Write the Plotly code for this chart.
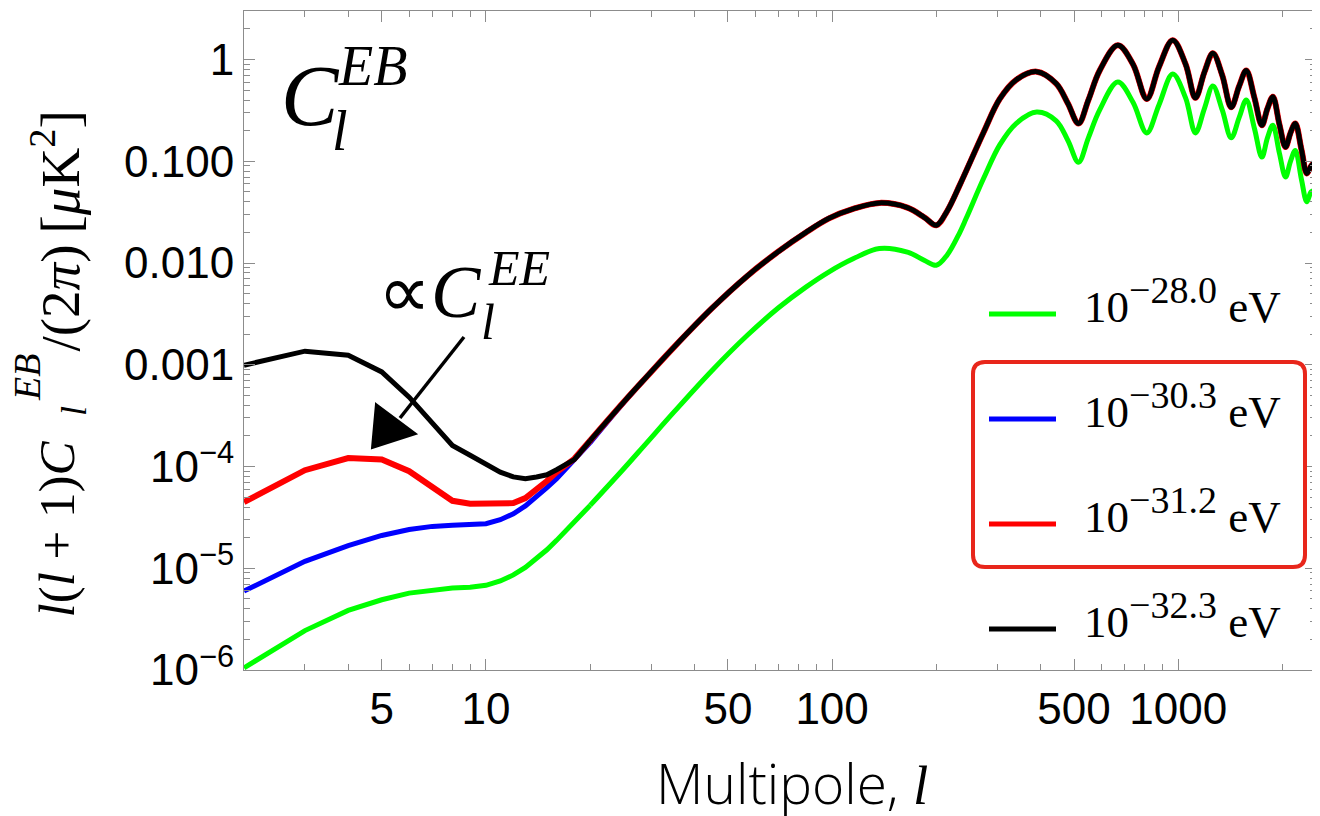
import plotly.graph_objects as go

# ---------------- data ----------------
ell_low = [2, 3, 4, 5, 6, 7, 8, 9, 10, 11, 12, 13, 14, 15, 16, 18, 20]
green_low = [1.05e-6, 2.44e-6, 3.85e-6, 4.9e-6, 5.7e-6, 6.15e-6, 6.4e-6, 6.5e-6, 6.8e-6,
             7.5e-6, 8.6e-6, 1.02e-5, 1.25e-5, 1.52e-5, 1.88e-5, 2.82e-5, 4.15e-5]
blue_low = [5.96e-6, 1.17e-5, 1.67e-5, 2.1e-5, 2.4e-5, 2.58e-5, 2.64e-5, 2.66e-5, 2.74e-5,
            3.0e-5, 3.43e-5, 4.1e-5, 5.0e-5, 6.2e-5, 7.6e-5, 1.15e-4, 1.72e-4]
red_low = [4.47e-5, 9.2e-5, 1.21e-4, 1.17e-4, 9.0e-5, 6.3e-5, 4.6e-5, 4.3e-5, 4.3e-5,
           4.3e-5, 4.37e-5, 4.9e-5, 5.9e-5, 7.2e-5, 8.8e-5, 1.19e-4, 1.8e-4]
black_low = [9.9e-4, 1.36e-3, 1.24e-3, 8.5e-4, 4.8e-4, 2.73e-4, 1.61e-4, 1.29e-4, 1.06e-4,
             8.8e-5, 7.9e-5, 7.6e-5, 7.9e-5, 8.3e-5, 9.3e-5, 1.17e-4, 1.8e-4]

ell_high = [20, 25, 29, 35, 45, 57, 70, 84, 98, 115, 137, 165, 185, 200, 215, 233, 244, 274,
            305, 340, 390, 444, 480, 515, 550, 593, 669, 740, 811, 880, 964, 1050, 1121, 1190,
            1259, 1340, 1422, 1500, 1572, 1660, 1744, 1810, 1876, 1960, 2041, 2110, 2178, 2270,
            2352, 2420, 2490]
green_high = [4.15e-5, 9.5e-5, 1.68e-4, 3.46e-4, 8.8e-4, 1.96e-3, 3.63e-3, 5.8e-3, 8.2e-3,
              1.1e-2, 1.39e-2, 1.28e-2, 1.06e-2, 9.5e-3, 1.2e-2, 1.95e-2, 2.75e-2, 6.8e-2,
              0.145, 0.235, 0.305, 0.25, 0.16, 0.098, 0.17, 0.32, 0.6, 0.38, 0.19, 0.36,
              0.72, 0.42, 0.19, 0.33, 0.55, 0.32, 0.17, 0.27, 0.4, 0.21, 0.11, 0.17,
              0.226, 0.12, 0.07, 0.1, 0.128, 0.066, 0.04, 0.05, 0.052]
black_high = [1.8e-4, 4.3e-4, 7.5e-4, 1.5e-3, 3.6e-3, 7.5e-3, 1.3e-2, 2.0e-2, 2.75e-2,
              3.4e-2, 3.9e-2, 3.5e-2, 2.8e-2, 2.35e-2, 3.25e-2, 5.7e-2, 8.05e-2, 0.193,
              0.41, 0.63, 0.76, 0.58, 0.37, 0.235, 0.4, 0.78, 1.38, 0.9, 0.41, 0.85,
              1.55, 0.9, 0.42, 0.75, 1.15, 0.7, 0.34, 0.55, 0.78, 0.42, 0.226, 0.33,
              0.43, 0.23, 0.138, 0.19, 0.235, 0.13, 0.076, 0.09, 0.1]
red_high = [1.8e-4, 4.3e-4, 7.5e-4, 1.5e-3, 3.6e-3, 7.5e-3, 1.3e-2, 2.0e-2, 2.75e-2,
            3.4e-2, 3.9e-2, 3.5e-2, 2.8e-2, 2.35e-2, 3.25e-2, 5.7e-2, 8.05e-2, 0.193,
            0.41, 0.63, 0.76, 0.58, 0.37, 0.235, 0.4, 0.78, 1.38, 0.9, 0.41, 0.85,
            1.55, 0.9, 0.42, 0.75, 1.15, 0.7, 0.34, 0.55, 0.78, 0.42, 0.226, 0.33,
            0.43, 0.23, 0.138, 0.19, 0.235, 0.13, 0.076, 0.09, 0.1]
blue_high = [1.72e-4, 4.25e-4, 7.5e-4, 1.5e-3, 3.6e-3, 7.5e-3, 1.3e-2, 2.0e-2, 2.75e-2,
             3.4e-2, 3.9e-2, 3.5e-2, 2.8e-2, 2.35e-2, 3.25e-2, 5.7e-2, 8.05e-2, 0.193,
             0.41, 0.63, 0.76, 0.58, 0.37, 0.235, 0.4, 0.78, 1.38, 0.9, 0.41, 0.85,
             1.55, 0.9, 0.42, 0.75, 1.15, 0.7, 0.34, 0.55, 0.78, 0.42, 0.226, 0.33,
             0.43, 0.23, 0.138, 0.19, 0.235, 0.13, 0.076, 0.09, 0.1]

legend_exponents = ["\u221228.0", "\u221230.3", "\u221231.2", "\u221232.3"]
series_colors = ["#00ff00", "#0000ff", "#ff0000", "#000000"]

x_major = [5, 10, 50, 100, 500, 1000]
x_major_text = ["5", "10", "50", "100", "500", "1000"]
x_minor = [3, 4, 6, 7, 8, 9, 20, 30, 40, 60, 70, 80, 90, 200, 300, 400, 600, 700, 800, 900, 2000]
y_major = [1e-6, 1e-5, 1e-4, 1e-3, 1e-2, 1e-1, 1]
y_major_text = ["10<sup>\u22126</sup>", "10<sup>\u22125</sup>", "10<sup>\u22124</sup>",
                "0.001", "0.010", "0.100", "1"]
y_minor = [m * 10.0 ** e for e in range(-6, 1) for m in range(2, 10) if m * 10.0 ** e <= 3]

# ---------------- figure ----------------
OFF = 8  # the page's default body margin
W_FIG, H_FIG = 1320 - OFF, 816 - OFF
PL, PR, PT, PB = 244, 1316, 11, 670   # plot area in window pixels
PW, PH = PR - PL, PB - PT


def X(px):
    return (px - PL) / PW


def Y(py):
    return (PB - py) / PH


fig = go.Figure()
series = [(green_low, green_high), (blue_low, blue_high), (red_low, red_high), (black_low, black_high)]
widths = [5, 5, 6, 5]
for (lo, hi), col, w in zip(series, series_colors, widths):
    fig.add_trace(go.Scatter(x=ell_low, y=lo, mode="lines", showlegend=False,
                             line=dict(color=col, width=w)))
    fig.add_trace(go.Scatter(x=ell_high, y=hi, mode="lines", showlegend=False,
                             line=dict(color=col, width=w, shape="spline", smoothing=1)))

axis_common = dict(type="log", showgrid=False, zeroline=False, showline=True, automargin=False,
                   linecolor="#8c8c8c", linewidth=1, mirror="ticks", ticks="inside",
                   ticklen=11, tickcolor="#8c8c8c", tickwidth=1,
                   tickfont=dict(family="Liberation Sans, Arial", size=44, color="black"))

fig.update_xaxes(**axis_common, range=[0.30103, 3.39794], tickmode="array",
                 tickvals=x_major, ticktext=x_major_text,
                 minor=dict(tickmode="array", tickvals=x_minor, ticks="inside", ticklen=6,
                            tickcolor="#8c8c8c", tickwidth=1, showgrid=False))
fig.update_yaxes(**axis_common, range=[-6, 0.4771], tickmode="array",
                 tickvals=y_major, ticktext=y_major_text,
                 minor=dict(tickmode="array", tickvals=y_minor, ticks="inside", ticklen=6,
                            tickcolor="#8c8c8c", tickwidth=1, showgrid=False))

shapes = []
annotations = []
SERIF = "Liberation Serif, Times New Roman, serif"

# legend (drawn manually)
leg_y = [314, 419, 524, 629]
for yy, col, ex in zip(leg_y, series_colors, legend_exponents):
    shapes.append(dict(type="line", xref="paper", yref="paper", x0=X(989), x1=X(1056),
                       y0=Y(yy), y1=Y(yy), line=dict(color=col, width=5)))
    lab = f"10<sup><span style='font-size:38px'>{ex}</span></sup> eV"
    annotations.append(dict(xref="paper", yref="paper", x=X(1082), y=Y(yy - 14), text=lab,
                            showarrow=False, xanchor="left", yanchor="middle",
                            font=dict(family=SERIF, size=45, color="black")))

# red rounded box
x0, x1, y0, y1, r = X(973), X(1305), Y(362), Y(567), 12
rx, ry = r / PW, r / PH
box_path = (f"M {x0+rx},{y0} L {x1-rx},{y0} Q {x1},{y0} {x1},{y0-ry} "
            f"L {x1},{y1+ry} Q {x1},{y1} {x1-rx},{y1} L {x0+rx},{y1} "
            f"Q {x0},{y1} {x0},{y1+ry} L {x0},{y0-ry} Q {x0},{y0} {x0+rx},{y0} Z")
shapes.append(dict(type="path", xref="paper", yref="paper", path=box_path,
                   line=dict(color="#e8261b", width=4)))

# hand-drawn arrow
shapes.append(dict(type="line", xref="paper", yref="paper", x0=X(464), y0=Y(337),
                   x1=X(400), y1=Y(418), line=dict(color="black", width=3.5)))
tri = f"M {X(376)},{Y(404)} L {X(416)},{Y(434)} L {X(372)},{Y(448)} Z"
shapes.append(dict(type="path", xref="paper", yref="paper", path=tri,
                   fillcolor="black", line=dict(color="black", width=2)))

# C_l^EB label
annotations += [
    dict(xref="paper", yref="paper", x=X(279), y=Y(96), text="<i>C</i>", showarrow=False,
         xanchor="left", yanchor="middle", font=dict(family=SERIF, size=86, color="black")),
    dict(xref="paper", yref="paper", x=X(336), y=Y(66), text="<i>EB</i>", showarrow=False,
         xanchor="left", yanchor="middle", font=dict(family=SERIF, size=56, color="black")),
    dict(xref="paper", yref="paper", x=X(330), y=Y(131), text="<i>l</i>", showarrow=False,
         xanchor="left", yanchor="middle", font=dict(family=SERIF, size=56, color="black")),
    # proportional to C_l^EE
    dict(xref="paper", yref="paper", x=X(376), y=Y(292), text="\u221d<i>C</i>", showarrow=False,
         xanchor="left", yanchor="middle", font=dict(family=SERIF, size=74, color="black")),
    dict(xref="paper", yref="paper", x=X(486), y=Y(268), text="<i>EE</i>", showarrow=False,
         xanchor="left", yanchor="middle", font=dict(family=SERIF, size=50, color="black")),
    dict(xref="paper", yref="paper", x=X(479), y=Y(322), text="<i>l</i>", showarrow=False,
         xanchor="left", yanchor="middle", font=dict(family=SERIF, size=50, color="black")),
    # x title
    dict(xref="paper", yref="paper", x=X(792), y=Y(782),
         text="Multipole, <span style='font-family:Liberation Serif'><i>l</i></span>",
         showarrow=False, xanchor="center", yanchor="middle",
         font=dict(family="Open Sans", size=55, color="black", weight=300)),
    # y title pieces (rotated)
    dict(xref="paper", yref="paper", x=X(56), y=Y(620),
         text="<i>l</i>(<i>l</i> + 1)<i>C</i>", textangle=-90, showarrow=False,
         xanchor="center", yanchor="bottom", font=dict(family=SERIF, size=51, color="black")),
    dict(xref="paper", yref="paper", x=X(27), y=Y(378), text="<i>EB</i>", textangle=-90,
         showarrow=False, xanchor="center", yanchor="middle",
         font=dict(family=SERIF, size=38, color="black")),
    dict(xref="paper", yref="paper", x=X(74), y=Y(411), text="<i>l</i>", textangle=-90,
         showarrow=False, xanchor="center", yanchor="middle",
         font=dict(family=SERIF, size=36, color="black")),
    dict(xref="paper", yref="paper", x=X(56), y=Y(354),
         text="/(2<i>\u03c0</i>)\u2009[<i>\u03bc</i>K<sup>2</sup>]", textangle=-90,
         showarrow=False, xanchor="center", yanchor="bottom",
         font=dict(family=SERIF, size=55, color="black")),
]

fig.update_layout(width=W_FIG, height=H_FIG,
                  margin=dict(l=PL - OFF, r=1320 - PR, t=PT - OFF, b=816 - PB),
                  paper_bgcolor="white", plot_bgcolor="white", shapes=shapes,
                  annotations=annotations, showlegend=False)

fig.write_html("out.html")
